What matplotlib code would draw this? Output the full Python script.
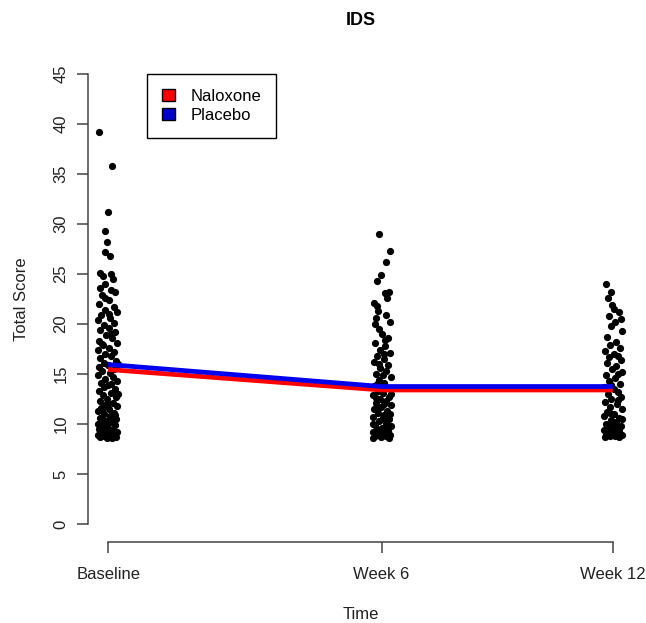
import matplotlib
matplotlib.use("Agg")
import matplotlib.pyplot as plt
from matplotlib.patches import Patch

plt.rcParams['font.family'] = ['Liberation Sans', 'DejaVu Sans']

# time points (weeks-ish spacing as in the original)
time_labels = ['Baseline', 'Week 6', 'Week 12']
time_pos = [0, 6.5, 12]

# group means
naloxone_mean = [15.45, 13.4, 13.4]
placebo_mean = [15.95, 13.75, 13.75]

# individual scores, with the jitter (approx pixels)
base_scores = [39.2, 35.8, 31.2, 29.3, 28.2, 27.2, 26.8,
               25.1, 25.0, 24.8, 24.5, 24.0, 23.6, 23.4, 23.2, 22.9, 22.4, 22.0, 21.7, 21.4, 21.2, 20.9, 20.6, 20.4, 20.1,
               19.9, 19.6, 19.4, 19.2, 18.9, 18.6, 18.3, 18.1, 17.9, 17.6, 17.4, 17.2, 17.0, 16.8, 16.6, 16.3, 16.1, 15.9, 15.7, 15.5, 15.3, 15.1,
               14.9, 14.7, 14.5, 14.3, 14.1, 13.9, 13.7, 13.5, 13.3, 13.1, 12.9, 12.7, 12.5, 12.3, 12.1,
               11.9, 11.8, 11.6, 11.5, 11.3, 11.1, 11.0, 10.8, 10.6, 10.5, 10.3, 10.2, 10.0, 9.9, 9.7, 9.6, 9.5, 9.4, 9.3, 9.2, 9.1, 9.0,
               8.9, 8.9, 8.8, 8.8, 8.7, 8.7, 8.6, 8.6, 9.0, 9.4, 9.8, 10.4, 10.9, 11.4, 12.0, 13.0, 14.0, 16.0, 18.0, 19.0, 21.0, 22.6]
base_jit = [-9, 4, 0, -3, -1, -3, 2,
            -8, 3, -5, 5, -3, -8, 3, 7, -6, 1, -9, 6, -3, 9, -7, 2, -10, 6,
            -4, 1, -8, 7, -2, 4, -9, 9, -5, 1, -10, 6, -3, 3, -8, 8, -4, 0, -9, 6, -6, 2,
            -10, 5, -3, 9, -7, 0, -4, 7, -9, 3, -5, 8, -1, -8, 5,
            -3, 9, -7, 1, -10, 6, -4, 2, -8, 8, -2, 4, -10, 7, -5, 0, -9, 5, -3, 9, -7, 2,
            -10, 6, -4, 1, -8, 8, -1, 4, -6, 3, -1, -6, 7, -6, 0, 10, 3, 10, -6, 3, 1, -3]

wk6_scores = [29.0, 27.3, 26.2, 24.9, 24.3, 23.2, 23.1, 22.1, 21.3, 20.9, 20.6, 20.2, 19.5, 19.0, 18.6, 18.1, 17.8, 17.4,
              17.1, 16.8, 16.5, 16.2, 15.9, 15.6, 15.3, 15.0, 14.7, 14.4, 14.1, 13.8, 13.6, 13.3, 13.1, 12.9, 12.7, 12.5,
              12.3, 12.1, 11.9, 11.7, 11.5, 11.3, 11.1, 10.9, 10.7, 10.5, 10.3, 10.1, 9.9, 9.8, 9.6, 9.5, 9.3, 9.2, 9.1,
              9.0, 8.9, 8.8, 8.8, 8.7, 8.6, 8.6, 9.4, 9.7, 10.0, 10.6, 11.0, 11.6, 12.0, 12.6, 13.0, 14.0, 14.9, 16.0,
              17.0, 18.4, 20.0, 21.8, 22.6]
wk6_jit = [-3, 8, 4, -1, -5, 7, 3, -8, -4, 4, -6, 8, -3, 0, 6, -7, 3, -2,
           8, -5, 2, -8, 6, -2, 4, -6, 9, -3, 2, -8, 6, -4, 1, -9, 7, -2,
           4, -6, 9, -1, -8, 5, -4, 2, -9, 7, -3, 4, -7, 9, 0, -5, 6, -9, 2,
           -3, 8, -7, 4, -1, -9, 7, -1, 4, -9, 1, 8, -4, 2, -6, 9, -5, 1, -3,
           2, 3, -7, -5, 5]

wk12_scores = [24.0, 23.2, 22.6, 21.9, 21.2, 20.8, 20.5, 20.2, 19.3, 18.7, 18.2, 17.9, 17.6, 17.3, 17.0, 16.7, 16.4,
               16.1, 15.8, 15.5, 15.2, 14.9, 14.6, 14.3, 14.0, 13.7, 13.5, 13.2, 13.0, 12.7, 12.5, 12.2, 12.0, 11.7,
               11.5, 11.2, 11.0, 10.8, 10.6, 10.4, 10.2, 10.0, 9.8, 9.7, 9.5, 9.4, 9.3, 9.1, 9.0, 8.9, 8.9, 8.8, 8.8,
               8.7, 8.7, 9.2, 9.6, 10.1, 10.5, 11.1, 12.4, 13.9, 15.0, 16.8, 19.8, 21.5]
wk12_jit = [-7, -2, -5, -1, 6, -4, 8, 2, 9, -6, 3, -3, 7, -8, 1, -4, 8,
            -6, 3, -1, 9, -7, 2, -4, 7, -9, 1, 5, -5, 8, -2, -8, 4, -3,
            9, -6, 1, -9, 6, -2, 3, -7, 8, -4, 1, -9, 6, -2, 4, -7, 9, -3, 2,
            -8, 6, -5, 4, -1, 9, -3, 5, -2, 5, 5, -2, 1]

JIT = 1 / 42.0
FS = 12

fig = plt.figure(figsize=(6.46, 6.23), dpi=100)
ax = fig.add_axes([88 / 646, 81 / 623, 545 / 646, 486 / 623])

for pos, sc, jt in zip(time_pos, [base_scores, wk6_scores, wk12_scores], [base_jit, wk6_jit, wk12_jit]):
    xs = [pos + j * JIT for j in jt]
    ax.scatter(xs, sc, s=27, color='black', linewidths=0, zorder=2)

ax.plot(time_pos, naloxone_mean, color='red', lw=3.4, solid_capstyle='butt', zorder=3)
ax.plot(time_pos, placebo_mean, color='#0000ee', lw=3.4, solid_capstyle='butt', zorder=4)

ax.set_xlim(-0.48, 12.48)
ax.set_ylim(-1.8, 46.8)
ax.set_xticks(time_pos)
ax.set_xticklabels(time_labels, fontsize=FS)
ax.set_yticks(range(0, 50, 5))
ax.set_yticklabels([str(v) for v in range(0, 50, 5)], fontsize=FS, rotation=90, va='center')

for s in ['top', 'right']:
    ax.spines[s].set_visible(False)
ax.spines['left'].set_bounds(0, 45)
ax.spines['bottom'].set_bounds(0, 12)
for s in ['left', 'bottom']:
    ax.spines[s].set_color('#444444')
    ax.spines[s].set_linewidth(1.1)
ax.tick_params(axis='both', length=8, width=1.1, color='#444444', labelcolor='#222222')
ax.tick_params(axis='x', pad=10)
ax.tick_params(axis='y', pad=6)

ax.set_xlabel('Time', fontsize=FS, labelpad=18, color='#222222')
ax.set_ylabel('Total Score', fontsize=FS, labelpad=18, color='#222222')
ax.set_title('IDS', fontsize=13, fontweight='bold', pad=22)

handles = [Patch(facecolor='red', edgecolor='black', label='Naloxone'),
           Patch(facecolor='#0000cc', edgecolor='black', label='Placebo')]
leg = ax.legend(handles=handles, loc='upper left', bbox_to_anchor=(0.108, 0.963),
                borderaxespad=0, fancybox=False, framealpha=1, edgecolor='black',
                fontsize=FS, handlelength=0.8, handleheight=0.75, handletextpad=0.9,
                labelspacing=0.22, borderpad=0.9)
leg.get_frame().set_linewidth(1.0)

fig.savefig('out.png', dpi=100)
